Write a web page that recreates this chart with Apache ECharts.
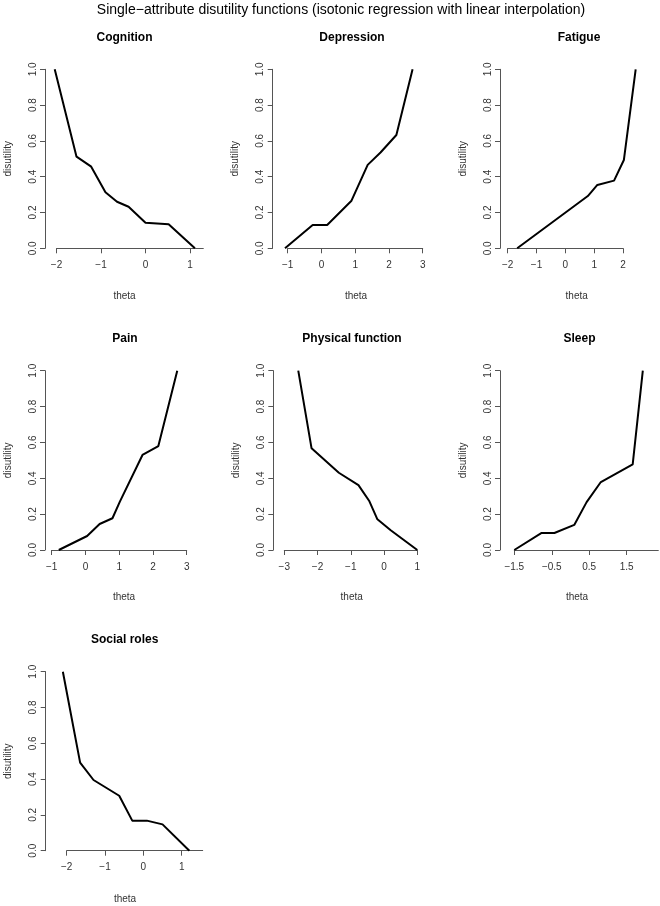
<!DOCTYPE html>
<html>
<head>
<meta charset="utf-8">
<script src="https://cdn.jsdelivr.net/npm/echarts@6/dist/echarts.min.js"></script>
<style>html,body{margin:0;padding:0;background:#fff}#c{width:660px;height:906px}</style>
</head>
<body>
<div id="c"></div>
<script>
// ---------- text ----------
const mainTitle = "Single\u2212attribute disutility functions (isotonic regression with linear interpolation)";
const panelNames = ["Cognition", "Depression", "Fatigue", "Pain", "Physical function", "Sleep", "Social roles"];
const xAxisTitle = "theta";
const yAxisTitle = "disutility";

// ---------- data ----------
const cognitionTheta      = [-2.04, -1.55, -1.22, -0.90, -0.64, -0.38, 0.00, 0.52, 1.11];
const cognitionDisutility = [1.00, 0.512, 0.456, 0.313, 0.260, 0.232, 0.143, 0.134, 0.00];

const depressionTheta      = [-1.08, -0.26, 0.17, 0.89, 1.37, 1.75, 2.22, 2.70];
const depressionDisutility = [0.00, 0.130, 0.130, 0.266, 0.466, 0.535, 0.633, 1.00];

const fatigueTheta      = [-1.67, 0.78, 1.11, 1.69, 2.03, 2.44];
const fatigueDisutility = [0.00, 0.292, 0.354, 0.378, 0.493, 1.00];

const painTheta      = [-0.79, 0.05, 0.42, 0.80, 1.02, 1.69, 2.16, 2.72];
const painDisutility = [0.00, 0.078, 0.145, 0.177, 0.270, 0.530, 0.580, 1.00];

const physicalTheta      = [-2.58, -2.18, -1.36, -0.77, -0.45, -0.20, 0.20, 1.00];
const physicalDisutility = [1.00, 0.567, 0.431, 0.362, 0.275, 0.171, 0.110, 0.00];

const sleepTheta      = [-1.50, -0.77, -0.43, 0.10, 0.43, 0.81, 1.66, 1.93];
const sleepDisutility = [0.00, 0.095, 0.095, 0.140, 0.267, 0.379, 0.478, 1.00];

const socialTheta      = [-2.10, -1.65, -1.30, -0.63, -0.29, 0.09, 0.50, 1.20];
const socialDisutility = [1.00, 0.492, 0.395, 0.307, 0.168, 0.168, 0.147, 0.00];

// ---------- tick labels ----------
const cognitionTicks  = [-2, -1, 0, 1];
const depressionTicks = [-1, 0, 1, 2, 3];
const fatigueTicks    = [-2, -1, 0, 1, 2];
const painTicks       = [-1, 0, 1, 2, 3];
const physicalTicks   = [-3, -2, -1, 0, 1];
const sleepTicks      = [-1.5, -0.5, 0.5, 1.5];
const socialTicks     = [-2, -1, 0, 1];
const yTicks          = [0, 0.2, 0.4, 0.6, 0.8, 1.0];

const thetaSets = [cognitionTheta, depressionTheta, fatigueTheta, painTheta, physicalTheta, sleepTheta, socialTheta];
const disutilitySets = [cognitionDisutility, depressionDisutility, fatigueDisutility, painDisutility, physicalDisutility, sleepDisutility, socialDisutility];
const tickSets = [cognitionTicks, depressionTicks, fatigueTicks, painTicks, physicalTicks, sleepTicks, socialTicks];

// ---------- layout (pixels) ----------
// yLine: y-axis line x; plotRight: right edge of plot region; t0/t1: pixel of first/last tick; lineEnd: end of x-axis line
const layout = [
  {yLine: 45,    plotRight: 203.3, t0: 56.5,  t1: 190,   lineEnd: 203.3, top: 69.3,  height: 179,   tx: 124.5, ty: 37.3,  lx: 124.5, ly: 296.7},
  {yLine: 272.7, plotRight: 435,   t0: 287.7, t1: 422.7, lineEnd: 422.7, top: 69.3,  height: 179,   tx: 352,   ty: 37.3,  lx: 356,   ly: 296.7},
  {yLine: 500,   plotRight: 658,   t0: 507.7, t1: 623,   lineEnd: 623,   top: 69.3,  height: 179,   tx: 579,   ty: 37.3,  lx: 576.7, ly: 296.7},
  {yLine: 45,    plotRight: 203,   t0: 51.7,  t1: 186.7, lineEnd: 186.7, top: 370.7, height: 179.3, tx: 125,   ty: 338.3, lx: 124,   ly: 597.7},
  {yLine: 273.3, plotRight: 435,   t0: 284.3, t1: 417.3, lineEnd: 417.3, top: 370.7, height: 179.3, tx: 352,   ty: 338.3, lx: 351.7, ly: 597.7},
  {yLine: 500,   plotRight: 658.3, t0: 514.3, t1: 626.7, lineEnd: 658.3, top: 370.7, height: 179.3, tx: 579.5, ty: 338.3, lx: 577,   ly: 597.7},
  {yLine: 45.7,  plotRight: 202.7, t0: 66.7,  t1: 181.7, lineEnd: 202.7, top: 671.7, height: 179,   tx: 124.7, ty: 639.3, lx: 125,   ly: 899.3}
];

const FONT = "Liberation Sans, Arial, Helvetica, sans-serif";
const AXIS_COLOR = "#555";
const TEXT_COLOR = "#333";
const fmtX = v => String(v).replace('-', '\u2212');

const grids = [], xAxes = [], yAxes = [], series = [];
const titles = [{
  text: mainTitle, left: 341, top: 10, textAlign: 'center', textVerticalAlign: 'middle', padding: 0,
  textStyle: {fontFamily: FONT, fontSize: 14, fontWeight: 'normal', color: '#000'}
}];

layout.forEach((L, i) => {
  const ticks = tickSets[i];
  const first = ticks[0], last = ticks[ticks.length - 1];
  const unit = (L.t1 - L.t0) / (last - first);            // pixels per theta unit
  const dataMin = first - (L.t0 - L.yLine) / unit;
  const dataMax = first + (L.plotRight - L.t0) / unit;
  const lineMax = first + (L.lineEnd - L.t0) / unit;

  // data grid (plot region)
  const g = grids.length;
  grids.push({left: L.yLine, top: L.top, width: L.plotRight - L.yLine, height: L.height, containLabel: false});
  xAxes.push({type: 'value', gridIndex: g, min: dataMin, max: dataMax, show: false});
  yAxes.push({
    type: 'value', gridIndex: g, min: 0, max: 1, position: 'left',
    axisLine: {show: true, onZero: false, lineStyle: {color: AXIS_COLOR, width: 1}},
    axisTick: {show: true, customValues: yTicks, length: 5, lineStyle: {color: AXIS_COLOR, width: 1}},
    axisLabel: {show: true, customValues: yTicks, rotate: 90, formatter: v => v.toFixed(1), fontSize: 10, fontFamily: FONT, color: TEXT_COLOR, margin: 7},
    splitLine: {show: false},
    name: yAxisTitle, nameLocation: 'middle', nameRotate: 90, nameGap: 32,
    nameTextStyle: {fontSize: 10, fontFamily: FONT, color: TEXT_COLOR}
  });
  series.push({
    type: 'line', xAxisIndex: g, yAxisIndex: g,
    data: thetaSets[i].map((t, k) => [t, disutilitySets[i][k]]),
    showSymbol: false, silent: true,
    lineStyle: {color: '#000', width: 2}
  });

  // axis grid (x axis from first tick to the end of its line)
  const a = grids.length;
  grids.push({left: L.t0, top: L.top, width: L.lineEnd - L.t0, height: L.height, containLabel: false});
  xAxes.push({
    type: 'value', gridIndex: a, min: first, max: lineMax, position: 'bottom',
    axisLine: {show: true, onZero: false, lineStyle: {color: AXIS_COLOR, width: 1}},
    axisTick: {show: true, customValues: ticks, length: 5, lineStyle: {color: AXIS_COLOR, width: 1}},
    axisLabel: {show: true, customValues: ticks, formatter: fmtX, fontSize: 10, fontFamily: FONT, color: TEXT_COLOR, margin: 12},
    splitLine: {show: false}
  });
  yAxes.push({type: 'value', gridIndex: a, min: 0, max: 1, show: false});

  titles.push({
    text: panelNames[i], left: L.tx, top: L.ty, textAlign: 'center', textVerticalAlign: 'middle', padding: 0,
    textStyle: {fontFamily: FONT, fontSize: 12, fontWeight: 'bold', color: '#000'}
  });
  titles.push({
    text: xAxisTitle, left: L.lx, top: L.ly, textAlign: 'center', textVerticalAlign: 'middle', padding: 0,
    textStyle: {fontFamily: FONT, fontSize: 10, fontWeight: 'normal', color: TEXT_COLOR}
  });
});

const chart = echarts.init(document.getElementById('c'), null, {renderer: 'canvas'});
chart.setOption({
  animation: false,
  backgroundColor: '#fff',
  title: titles,
  grid: grids,
  xAxis: xAxes,
  yAxis: yAxes,
  series: series
});
</script>
</body>
</html>
